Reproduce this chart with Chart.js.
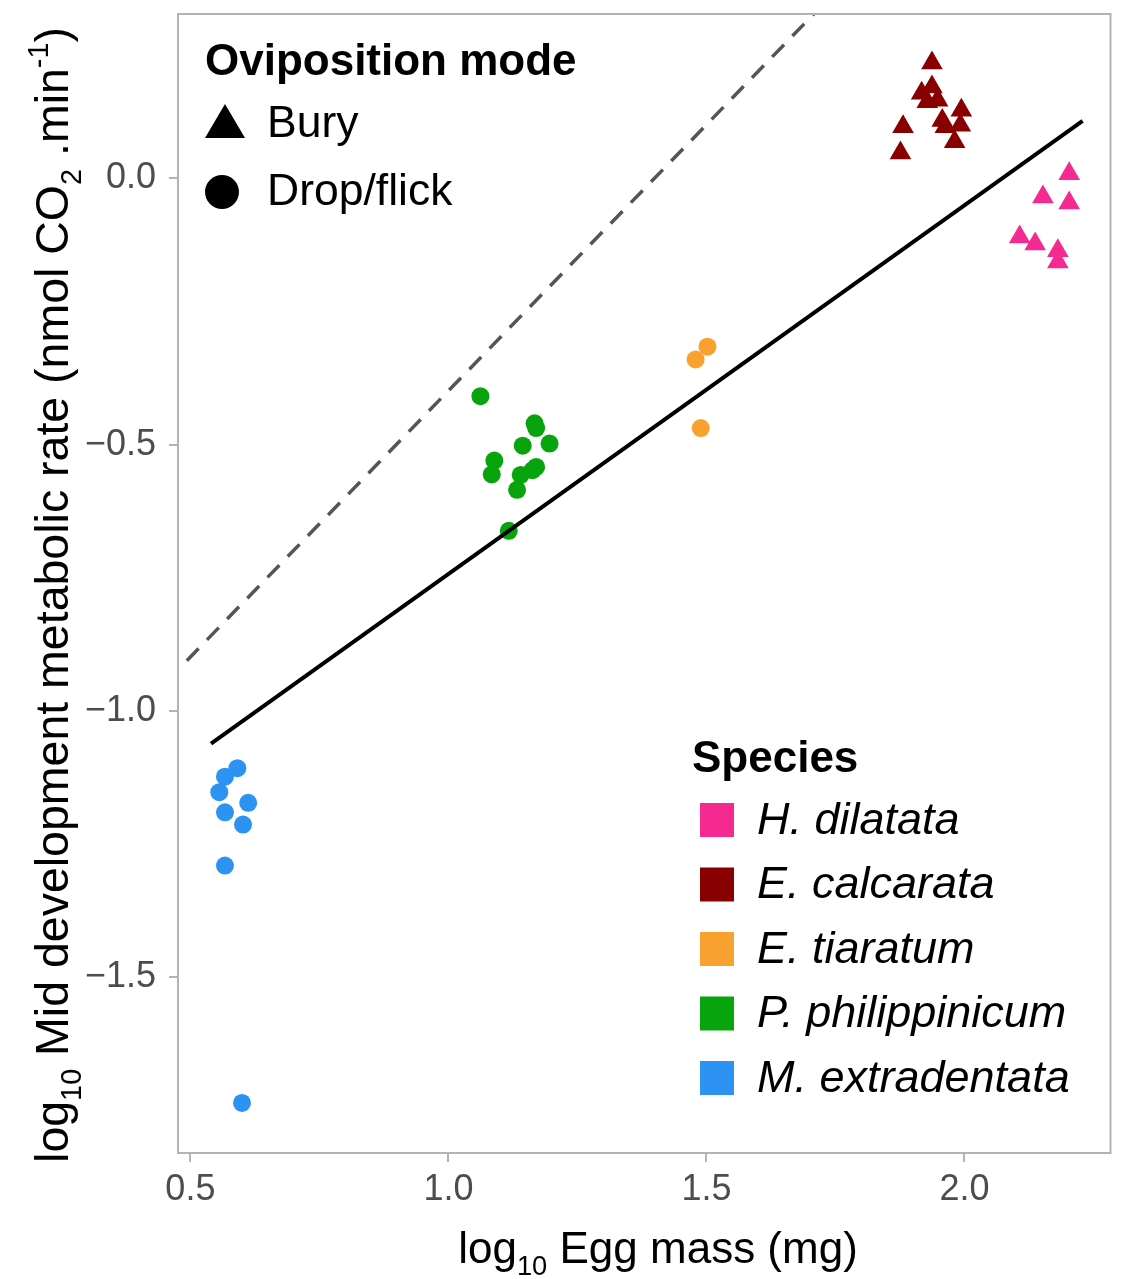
<!DOCTYPE html>
<html>
<head>
<meta charset="utf-8">
<script src="https://cdn.jsdelivr.net/npm/chart.js@4.4.1/dist/chart.umd.min.js"></script>
<style>
  html, body { margin: 0; padding: 0; background: #fff; }
  #wrap { width: 1123px; height: 1279px; }
</style>
</head>
<body>
<div id="wrap"><canvas id="chart"></canvas></div>
<script>
// ---- axes ----
const xTicks = [0.5, 1.0, 1.5, 2.0];
const xTickLabels = ["0.5", "1.0", "1.5", "2.0"];
const yTicks = [0.0, -0.5, -1.0, -1.5];
const yTickLabels = ["0.0", "\u22120.5", "\u22121.0", "\u22121.5"];
const xRange = [0.476, 2.283];
const yRange = [-1.831, 0.309];

// ---- species ----
const species = ["H. dilatata", "E. calcarata", "E. tiaratum", "P. philippinicum", "M. extradentata"];
const speciesColors = ["#F52A90", "#880000", "#F9A12E", "#07A40D", "#2C93F2"];
const speciesMode = ["Bury", "Bury", "Drop/flick", "Drop/flick", "Drop/flick"];
const modes = ["Bury", "Drop/flick"];

// log10 egg mass / log10 metabolic rate, per species
const dilatataX = [2.203, 2.152, 2.203, 2.107, 2.137, 2.181, 2.181];
const dilatataY = [0.009, -0.035, -0.046, -0.110, -0.123, -0.136, -0.157];

const calcarataX = [1.937, 1.937, 1.917, 1.928, 1.948, 1.994, 1.957, 1.992, 1.963, 1.981, 1.881, 1.876];
const calcarataY = [0.217, 0.172, 0.160, 0.144, 0.147, 0.128, 0.109, 0.100, 0.097, 0.069, 0.097, 0.048];

const tiaratumX = [1.502, 1.479, 1.489];
const tiaratumY = [-0.316, -0.340, -0.469];

const philippinicumX = [1.062, 1.167, 1.170, 1.144, 1.196, 1.089, 1.084, 1.170, 1.163, 1.140, 1.133, 1.117];
const philippinicumY = [-0.409, -0.460, -0.469, -0.502, -0.498, -0.530, -0.556, -0.542, -0.548, -0.557, -0.585, -0.662];

const extradentataX = [0.591, 0.567, 0.556, 0.612, 0.567, 0.602, 0.567, 0.600];
const extradentataY = [-1.108, -1.124, -1.153, -1.173, -1.191, -1.214, -1.291, -1.737];

// fitted line (solid) and reference line (dashed)
const fitX = [0.540, 2.229];
const fitY = [-1.062, 0.108];
const refX = [0.493, 1.708];
const refY = [-0.906, 0.309];

const seriesX = [dilatataX, calcarataX, tiaratumX, philippinicumX, extradentataX];
const seriesY = [dilatataY, calcarataY, tiaratumY, philippinicumY, extradentataY];

const zip = (xs, ys) => xs.map((x, i) => ({ x: x, y: ys[i] }));

const FONT = "'Liberation Sans', Arial, Helvetica, sans-serif";

const pointDatasets = species.map((name, i) => {
  const bury = speciesMode[i] === "Bury";
  return {
    type: "scatter",
    label: name,
    data: zip(seriesX[i], seriesY[i]),
    pointStyle: bury ? "triangle" : "circle",
    pointRadius: bury ? 12.5 : 9,
    pointHoverRadius: bury ? 12.5 : 9,
    backgroundColor: speciesColors[i],
    borderColor: speciesColors[i],
    borderWidth: 0,
    order: 2
  };
});

const lineDatasets = [
  {
    type: "line",
    label: "fit",
    data: zip(fitX, fitY),
    borderColor: "#000000",
    borderWidth: 4,
    pointRadius: 0,
    fill: false,
    order: 1
  },
  {
    type: "line",
    label: "reference",
    data: zip(refX, refY),
    borderColor: "#555555",
    borderWidth: 3.5,
    borderDash: [17, 12],
    pointRadius: 0,
    fill: false,
    order: 1
  }
];

// text with subscripts / superscripts: parts = [[text, kind], ...]
function richWidth(ctx, parts, size, style) {
  let w = 0;
  parts.forEach(([t, k]) => {
    const s = k ? size * 0.62 : size;
    ctx.font = style + " " + s + "px " + FONT;
    w += ctx.measureText(t).width;
  });
  return w;
}
function drawRich(ctx, parts, x, y, size, style) {
  let cx = x;
  parts.forEach(([t, k]) => {
    const s = k ? size * 0.62 : size;
    ctx.font = style + " " + s + "px " + FONT;
    let dy = 0;
    if (k === "sub") dy = size * 0.28;
    if (k === "sup") dy = -size * 0.42;
    ctx.fillText(t, cx, y + dy);
    cx += ctx.measureText(t).width;
  });
}

const xTitle = [["log", null], ["10", "sub"], [" Egg mass (mg)", null]];
const yTitle = [["log", null], ["10", "sub"], [" Mid development metabolic rate (nmol CO", null],
                ["2", "sub"], [" .min", null], ["-1", "sup"], [")", null]];

const decor = {
  id: "decor",
  afterDraw(chart) {
    const ctx = chart.ctx;
    const a = chart.chartArea;
    ctx.save();

    // panel border
    ctx.strokeStyle = "#B3B3B3";
    ctx.lineWidth = 2;
    ctx.strokeRect(a.left, a.top, a.right - a.left, a.bottom - a.top);

    ctx.fillStyle = "#000";
    ctx.textBaseline = "alphabetic";
    ctx.textAlign = "left";

    // x title
    const xs = 44;
    const xw = richWidth(ctx, xTitle, xs, "normal");
    drawRich(ctx, xTitle, 658 - xw / 2, 1263, xs, "normal");

    // y title
    const ys = 46.5;
    const yw = richWidth(ctx, yTitle, ys, "normal");
    ctx.save();
    ctx.translate(68, 595);
    ctx.rotate(-Math.PI / 2);
    drawRich(ctx, yTitle, -yw / 2, 0, ys, "normal");
    ctx.restore();

    // oviposition mode legend
    ctx.font = "bold 44px " + FONT;
    ctx.textBaseline = "middle";
    ctx.fillText("Oviposition mode", 205, 63);
    ctx.font = "44.5px " + FONT;
    modes.forEach((m, i) => {
      const cy = 124 + i * 68;
      ctx.beginPath();
      if (m === "Bury") {
        ctx.moveTo(225, cy - 20);
        ctx.lineTo(245, cy + 14);
        ctx.lineTo(205, cy + 14);
        ctx.closePath();
      } else {
        ctx.arc(222, cy, 17, 0, Math.PI * 2);
      }
      ctx.fill();
      ctx.fillText(m, 267, cy + 1);
    });

    // species legend
    ctx.font = "bold 44px " + FONT;
    ctx.fillText("Species", 692, 760);
    ctx.font = "italic 45px " + FONT;
    species.forEach((name, i) => {
      const cy = 820 + i * 64.5;
      ctx.fillStyle = speciesColors[i];
      ctx.fillRect(700, cy - 17, 34, 34);
      ctx.fillStyle = "#000";
      ctx.fillText(name, 757, cy + 1);
    });

    ctx.restore();
  }
};

new Chart(document.getElementById("chart"), {
  data: { datasets: [...pointDatasets, ...lineDatasets] },
  options: {
    responsive: true,
    maintainAspectRatio: false,
    animation: false,
    layout: { padding: { top: 14, right: 11, left: 0, bottom: 0 } },
    plugins: {
      legend: { display: false },
      tooltip: { enabled: false }
    },
    scales: {
      x: {
        type: "linear",
        min: xRange[0],
        max: xRange[1],
        afterBuildTicks: s => { s.ticks = xTicks.map(v => ({ value: v })); },
        afterFit: s => { s.height = 126; s.paddingLeft = 0; s.paddingRight = 0; },
        grid: { display: true, drawOnChartArea: false, drawTicks: true, tickLength: 9, color: "#B3B3B3", lineWidth: 2 },
        border: { display: false },
        ticks: {
          padding: 6,
          color: "#4D4D4D",
          font: { family: FONT, size: 36 },
          maxRotation: 0,
          callback: (v, i) => xTickLabels[i]
        }
      },
      y: {
        type: "linear",
        min: yRange[0],
        max: yRange[1],
        afterBuildTicks: s => { s.ticks = yTicks.map(v => ({ value: v })); },
        afterFit: s => { s.width = 178; s.paddingTop = 0; s.paddingBottom = 0; },
        grid: { display: true, drawOnChartArea: false, drawTicks: true, tickLength: 9, color: "#B3B3B3", lineWidth: 2 },
        border: { display: false },
        ticks: {
          padding: 13,
          color: "#4D4D4D",
          font: { family: FONT, size: 36 },
          callback: (v, i) => yTickLabels[i]
        }
      }
    }
  },
  plugins: [decor]
});
</script>
</body>
</html>
